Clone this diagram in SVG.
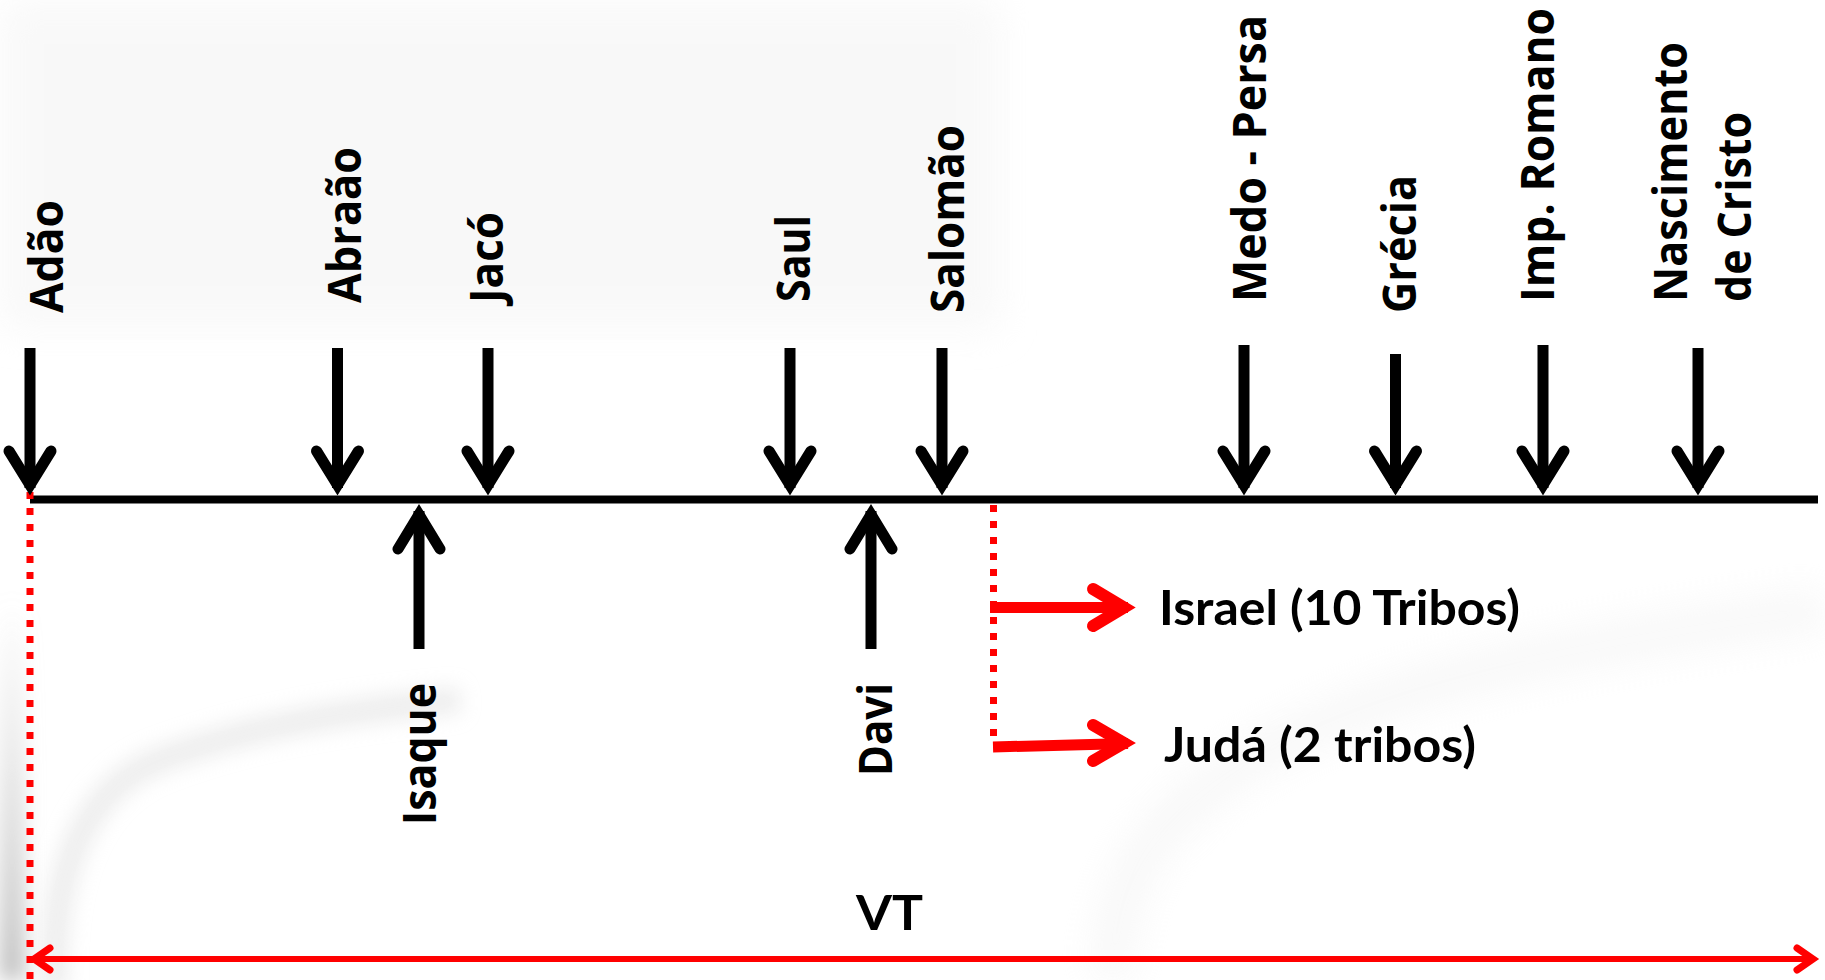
<svg xmlns="http://www.w3.org/2000/svg" width="1825" height="980" viewBox="0 0 1825 980">
<defs>
<style>
.lbl{font-family:"Open Sans","DejaVu Sans",sans-serif;font-weight:700;font-size:46px;fill:#000}
.cal{font-family:Lato,"Liberation Sans",sans-serif;font-weight:700;font-size:47px;fill:#000}
.shaft{stroke:#000;stroke-width:11;fill:none}
.head{stroke:#000;stroke-width:11;fill:none;stroke-linecap:round;stroke-linejoin:miter}
.base{stroke:#000;stroke-width:8;fill:none}
.rdot{stroke:#ff0000;stroke-width:7;stroke-dasharray:7 9;fill:none}
.rshaft{stroke:#ff0000;stroke-width:11;fill:none}
.rhead{stroke:#ff0000;stroke-width:12;fill:none;stroke-linecap:round;stroke-linejoin:miter}
.vt{stroke:#ff0000;stroke-width:6;fill:none}
.vthead{stroke:#ff0000;stroke-width:7;fill:none;stroke-linecap:round;stroke-linejoin:miter}
</style>
<filter id="soft" filterUnits="userSpaceOnUse" x="-100" y="-100" width="2025" height="1180"><feGaussianBlur stdDeviation="18"/></filter>
<filter id="soft2" filterUnits="userSpaceOnUse" x="-100" y="-100" width="2025" height="1180"><feGaussianBlur stdDeviation="10"/></filter>
<linearGradient id="edge" x1="0" y1="0" x2="0" y2="1">
<stop offset="0" stop-color="#cfcfcf" stop-opacity="0"/>
<stop offset="0.6" stop-color="#c4c4c4" stop-opacity="0.6"/>
<stop offset="1" stop-color="#b0b0b0" stop-opacity="0.85"/>
</linearGradient>
</defs>

<g id="background">
<rect x="0" y="0" width="1825" height="980" fill="#ffffff"/>
<path d="M0,0 H1000 V330 H0 Z" fill="#f3f3f3" opacity="0.5" filter="url(#soft)"/>
<rect x="0" y="600" width="24" height="380" fill="url(#edge)" filter="url(#soft2)"/>
<path d="M55,990 C50,880 80,790 160,760 S330,712 460,700" stroke="#dcdcdc" stroke-width="26" fill="none" opacity="0.5" filter="url(#soft2)"/>
<path d="M1825,610 C1600,640 1380,680 1250,760 S1120,900 1110,980" stroke="#efefef" stroke-width="40" fill="none" opacity="0.45" filter="url(#soft)"/>
</g>

<g id="connectors">
<line class="base" x1="30" y1="499.5" x2="1818" y2="499.5"/>
<line class="rdot" x1="30" y1="492" x2="30" y2="980"/>
<line class="rdot" x1="993.5" y1="505" x2="993.5" y2="745"/>
<line class="rshaft" x1="990" y1="607.5" x2="1128" y2="607.5"/>
<polyline class="rhead" points="1093,589 1124,607.5 1093,626"/>
<line class="rshaft" x1="993" y1="747" x2="1128" y2="743.5"/>
<polyline class="rhead" points="1093,725 1124,743 1093,761"/>
<line class="vt" x1="34" y1="959" x2="1812" y2="959"/>
<polyline class="vthead" points="1797,948 1813,959 1797,970"/>
<polyline class="vthead" points="50,948 34,959 50,970"/>
</g>

<g id="adao">
<line class="shaft" x1="30" y1="348" x2="30" y2="488"/>
<polyline class="head" points="9,451 30,485 51,451"/>
<text class="lbl" transform="translate(63,313) rotate(-90)" textLength="113" lengthAdjust="spacingAndGlyphs">Adão</text>
</g>
<g id="abraao">
<line class="shaft" x1="337.5" y1="348" x2="337.5" y2="488"/>
<polyline class="head" points="316.5,451 337.5,485 358.5,451"/>
<text class="lbl" transform="translate(361,303) rotate(-90)" textLength="156" lengthAdjust="spacingAndGlyphs">Abraão</text>
</g>
<g id="isaque">
<line class="shaft" x1="419" y1="649" x2="419" y2="511"/>
<polyline class="head" points="398,549 419,514.5 440,549"/>
<text class="lbl" transform="translate(436,825) rotate(-90)" textLength="142" lengthAdjust="spacingAndGlyphs">Isaque</text>
</g>
<g id="jaco">
<line class="shaft" x1="488" y1="348" x2="488" y2="488"/>
<polyline class="head" points="467,451 488,485 509,451"/>
<text class="lbl" transform="translate(503,303) rotate(-90)" textLength="91" lengthAdjust="spacingAndGlyphs">Jacó</text>
</g>
<g id="saul">
<line class="shaft" x1="790" y1="348" x2="790" y2="488"/>
<polyline class="head" points="769,451 790,485 811,451"/>
<text class="lbl" transform="translate(810,302) rotate(-90)" textLength="87" lengthAdjust="spacingAndGlyphs">Saul</text>
</g>
<g id="davi">
<line class="shaft" x1="871" y1="649" x2="871" y2="511"/>
<polyline class="head" points="850,549 871,514.5 892,549"/>
<text class="lbl" transform="translate(892,776) rotate(-90)" textLength="93" lengthAdjust="spacingAndGlyphs">Davi</text>
</g>
<g id="salomao">
<line class="shaft" x1="942" y1="348" x2="942" y2="488"/>
<polyline class="head" points="921,451 942,485 963,451"/>
<text class="lbl" transform="translate(964,313) rotate(-90)" textLength="188" lengthAdjust="spacingAndGlyphs">Salomão</text>
</g>
<g id="israel">
<text class="cal" x="1159" y="625" textLength="361" lengthAdjust="spacingAndGlyphs">Israel (10 Tribos)</text>
</g>
<g id="juda">
<text class="cal" x="1164" y="762" textLength="312" lengthAdjust="spacingAndGlyphs">Judá (2 tribos)</text>
</g>
<g id="medo-persa">
<line class="shaft" x1="1244" y1="345" x2="1244" y2="488"/>
<polyline class="head" points="1223,451 1244,485 1265,451"/>
<text class="lbl" transform="translate(1266,302) rotate(-90)" textLength="287" lengthAdjust="spacingAndGlyphs">Medo - Persa</text>
</g>
<g id="grecia">
<line class="shaft" x1="1395.5" y1="354" x2="1395.5" y2="488"/>
<polyline class="head" points="1374.5,451 1395.5,485 1416.5,451"/>
<text class="lbl" transform="translate(1416,313) rotate(-90)" textLength="138" lengthAdjust="spacingAndGlyphs">Grécia</text>
</g>
<g id="imp-romano">
<line class="shaft" x1="1543" y1="345" x2="1543" y2="488"/>
<polyline class="head" points="1522,451 1543,485 1564,451"/>
<text class="lbl" transform="translate(1554,302) rotate(-90)" textLength="294" lengthAdjust="spacingAndGlyphs">Imp. Romano</text>
</g>
<g id="nascimento">
<line class="shaft" x1="1698" y1="348" x2="1698" y2="488"/>
<polyline class="head" points="1677,451 1698,485 1719,451"/>
<text class="lbl" transform="translate(1687,302) rotate(-90)" textLength="260" lengthAdjust="spacingAndGlyphs">Nascimento</text>
<text class="lbl" transform="translate(1751,302) rotate(-90)" textLength="190" lengthAdjust="spacingAndGlyphs">de Cristo</text>
</g>
<g id="vt">
<text class="cal" x="856" y="930" font-size="56" textLength="67" lengthAdjust="spacingAndGlyphs">VT</text>
</g>
</svg>
